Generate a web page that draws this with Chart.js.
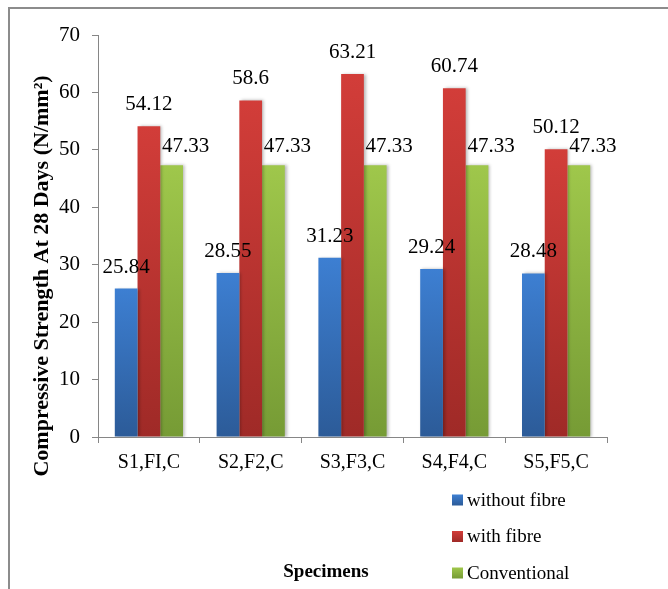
<!DOCTYPE html>
<html>
<head>
<meta charset="utf-8">
<script src="https://cdn.jsdelivr.net/npm/chart.js@4/dist/chart.umd.min.js"></script>
<style>
    body { margin: 0; background: #fff; }
    .wrap { position: relative; width: 668px; height: 589px; overflow: hidden; }
    .frame { position: absolute; left: 8px; top: 7px; width: 700px; height: 620px;
             border-left: 2px solid #8c8c8c; border-top: 2px solid #8c8c8c; }
    canvas { position: absolute; left: 0; top: 0; }
</style>
</head>
<body>
<div class="wrap">
    <div class="frame"></div>
    <canvas id="chart" width="668" height="589"></canvas>
</div>
<script>
const specimens = ["S1,FI,C", "S2,F2,C", "S3,F3,C", "S4,F4,C", "S5,F5,C"];

const withoutFibre = [25.84, 28.55, 31.23, 29.24, 28.48];
const withFibre = [54.12, 58.6, 63.21, 60.74, 50.12];
const conventional = [47.33, 47.33, 47.33, 47.33, 47.33];

const seriesNames = ["without fibre", "with fibre", "Conventional"];
const yTicks = [0, 10, 20, 30, 40, 50, 60, 70];

const SERIF = '"Liberation Serif", "Times New Roman", serif';

// top and bottom colour of each bar's gradient
const shades = [
    ["#3d7fd2", "#2c5b98"],
    ["#d23d39", "#9f2a27"],
    ["#9fc74b", "#769b35"]
];

const barFill = (i) => (ctx) => {
    const chart = ctx.chart;
    if (!chart.chartArea || ctx.raw == null) return shades[i][0];
    const y = chart.scales.y;
    const g = chart.ctx.createLinearGradient(0, y.getPixelForValue(ctx.raw), 0, y.getPixelForValue(0));
    g.addColorStop(0, shades[i][0]);
    g.addColorStop(1, shades[i][1]);
    return g;
};

// label nudges per series (Excel put the green ones off to the right)
const labelShift = [[0, 16], [0, 16], [14, 13]];

const decorations = {
    id: "decorations",
    beforeDatasetsDraw(chart) {
        const c = chart.ctx;
        c.save();
        c.shadowColor = "rgba(0,0,0,0.28)";
        c.shadowBlur = 3;
        c.shadowOffsetX = 2;
        c.shadowOffsetY = 0;
    },
    afterDatasetsDraw(chart) {
        const c = chart.ctx;
        c.restore();

        // value labels
        c.save();
        c.fillStyle = "#000";
        c.font = "21px " + SERIF;
        c.textAlign = "center";
        c.textBaseline = "alphabetic";
        chart.data.datasets.forEach((ds, i) => {
            chart.getDatasetMeta(i).data.forEach((bar, j) => {
                c.fillText(String(ds.data[j]), bar.x + labelShift[i][0], bar.y - labelShift[i][1]);
            });
        });
        c.restore();

        const area = chart.chartArea;

        // axis titles
        c.save();
        c.fillStyle = "#000";
        c.font = "bold 22px " + SERIF;
        c.textAlign = "center";
        c.textBaseline = "middle";
        c.translate(area.left - 56, (area.top + area.bottom) / 2 + 40);
        c.rotate(-Math.PI / 2);
        c.fillText("Compressive Strength At 28 Days (N/mm\u00B2)", 0, 0);
        c.restore();

        c.save();
        c.fillStyle = "#000";
        c.font = "bold 19px " + SERIF;
        c.textAlign = "center";
        c.textBaseline = "alphabetic";
        c.fillText("Specimens", area.left + 228, area.bottom + 140);
        c.restore();

        // legend, stacked under the right side of the plot
        c.save();
        c.font = "19px " + SERIF;
        c.textAlign = "left";
        c.textBaseline = "middle";
        chart.data.datasets.forEach((ds, i) => {
            const lx = area.left + 354;
            const ly = area.bottom + 63 + i * 36.5;
            const g = c.createLinearGradient(0, ly - 5.5, 0, ly + 5.5);
            g.addColorStop(0, shades[i][0]);
            g.addColorStop(1, shades[i][1]);
            c.fillStyle = g;
            c.fillRect(lx, ly - 5.5, 11, 11);
            c.fillStyle = "#000";
            c.fillText(ds.label, lx + 15, ly + 1);
        });
        c.restore();
    }
};

const ctx = document.querySelector("canvas#chart");

new Chart(ctx, {
    type: "bar",
    data: {
        labels: specimens,
        datasets: [
            { label: seriesNames[0], data: withoutFibre, backgroundColor: barFill(0) },
            { label: seriesNames[1], data: withFibre, backgroundColor: barFill(1) },
            { label: seriesNames[2], data: conventional, backgroundColor: barFill(2) }
        ]
    },
    options: {
        responsive: false,
        animation: false,
        events: [],
        categoryPercentage: 0.67,
        barPercentage: 1,
        layout: {
            padding: { left: 48, right: 61, top: 35, bottom: 112 }
        },
        plugins: {
            legend: { display: false },
            tooltip: { enabled: false }
        },
        scales: {
            x: {
                afterFit: (s) => { s.height = 40; },
                grid: {
                    drawOnChartArea: false,
                    drawTicks: true,
                    tickLength: 6,
                    color: "#868686"
                },
                border: { color: "#868686", width: 1 },
                ticks: {
                    color: "#000",
                    padding: 8,
                    font: { family: SERIF, size: 20 }
                }
            },
            y: {
                min: 0,
                max: 70,
                afterFit: (s) => { s.width = 50; },
                afterBuildTicks: (s) => { s.ticks = yTicks.map((v) => ({ value: v })); },
                grid: {
                    drawOnChartArea: false,
                    drawTicks: true,
                    tickLength: 6,
                    color: "#868686"
                },
                border: { color: "#868686", width: 1 },
                ticks: {
                    color: "#000",
                    padding: 12,
                    font: { family: SERIF, size: 21 }
                }
            }
        }
    },
    plugins: [decorations]
});
</script>
</body>
</html>
